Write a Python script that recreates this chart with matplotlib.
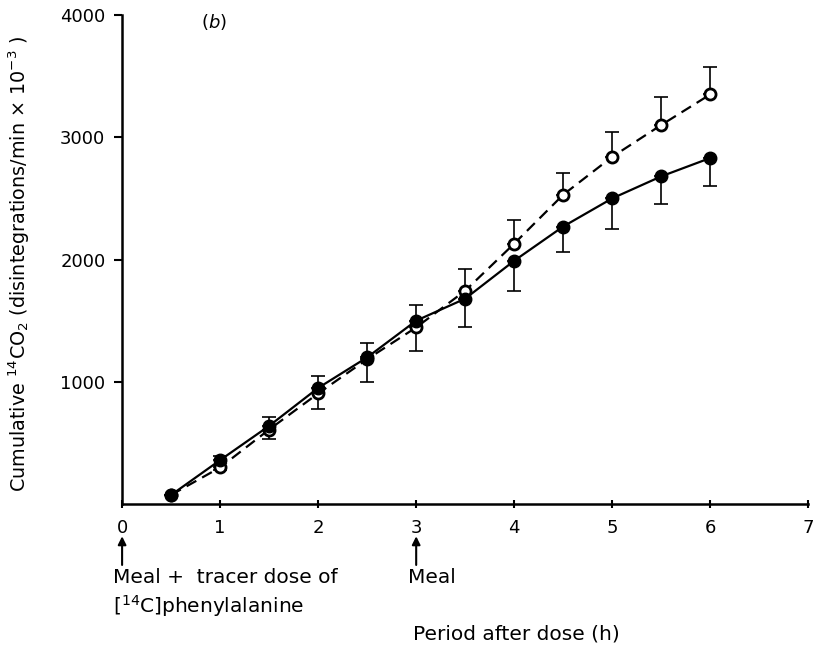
import matplotlib
matplotlib.use("Agg")
import matplotlib.pyplot as plt

plt.rcParams['font.family'] = ['DejaVu Sans']

# Data
time_h = [0.5, 1.0, 1.5, 2.0, 2.5, 3.0, 3.5, 4.0, 4.5, 5.0, 5.5, 6.0]
filled_vals = [75, 360, 640, 950, 1200, 1500, 1680, 1990, 2270, 2500, 2680, 2830]
open_vals = [75, 300, 610, 905, 1185, 1445, 1745, 2130, 2530, 2840, 3100, 3350]
# error bars: filled shown up for early, down for late; open the reverse
filled_err_up = [0, 30, 75, 100, 115, 125, 0, 0, 0, 0, 0, 0]
filled_err_dn = [0, 0, 0, 0, 0, 0, 235, 250, 205, 250, 230, 230]
open_err_up = [0, 0, 0, 0, 0, 0, 175, 190, 175, 205, 230, 225]
open_err_dn = [0, 20, 75, 125, 190, 190, 0, 0, 0, 0, 0, 0]

x_ticks = [0, 1, 2, 3, 4, 5, 6, 7]
y_ticks = [1000, 2000, 3000, 4000]

fig = plt.figure(figsize=(8.14, 6.48), dpi=100)
ax = fig.add_axes([0.150, 0.222, 0.843, 0.755])

ax.errorbar(time_h, open_vals, yerr=[open_err_dn, open_err_up], fmt='none',
            ecolor='black', elinewidth=1.2, capsize=5, capthick=1.2, zorder=2)
ax.errorbar(time_h, filled_vals, yerr=[filled_err_dn, filled_err_up], fmt='none',
            ecolor='black', elinewidth=1.2, capsize=5, capthick=1.2, zorder=2)

ax.plot(time_h, open_vals, color='black', linestyle=(0, (5, 3)), linewidth=1.6,
        marker='o', markersize=8, markerfacecolor='white', markeredgecolor='black',
        markeredgewidth=2, zorder=3)
ax.plot(time_h, filled_vals, color='black', linestyle='-', linewidth=1.6,
        marker='o', markersize=9, markerfacecolor='black', markeredgecolor='black',
        zorder=4)

ax.set_xlim(0, 7)
ax.set_ylim(0, 4000)
ax.set_xticks(x_ticks)
ax.set_yticks(y_ticks)
ax.tick_params(axis='both', labelsize=13, width=1.5, length=6, colors='black')
ax.tick_params(axis='x', direction='inout', pad=8)
ax.tick_params(axis='y', direction='out', pad=6)
for s in ['top', 'right']:
    ax.spines[s].set_visible(False)
for s in ['left', 'bottom']:
    ax.spines[s].set_linewidth(1.8)

ax.set_ylabel('Cumulative $^{14}$CO$_2$ (disintegrations/min $\\times$ 10$^{-3}$ )',
              fontsize=13.8)
ax.yaxis.set_label_coords(-0.132, 0.49)

ax.text(0.115, 0.985, '($b$)', fontsize=13, transform=ax.transAxes,
        ha='left', va='center')

# arrows and annotations below the axis
ax.annotate('', xy=(0, -240), xytext=(0, -520), xycoords='data',
            arrowprops=dict(arrowstyle='-|>', color='black', lw=1.5, mutation_scale=12),
            annotation_clip=False)
ax.annotate('', xy=(3, -240), xytext=(3, -520), xycoords='data',
            arrowprops=dict(arrowstyle='-|>', color='black', lw=1.5, mutation_scale=12),
            annotation_clip=False)
ax.text(-0.09, -600, 'Meal +  tracer dose of', fontsize=14.5, ha='left', va='center', clip_on=False)
ax.text(-0.09, -830, '[$^{14}$C]phenylalanine', fontsize=14.5, ha='left', va='center', clip_on=False)
ax.text(2.92, -600, 'Meal', fontsize=14.5, ha='left', va='center', clip_on=False)

ax.set_xlabel('Period after dose (h)', fontsize=14.5)
ax.xaxis.set_label_coords(0.574, -0.245)

fig.savefig('out.png', dpi=100)
